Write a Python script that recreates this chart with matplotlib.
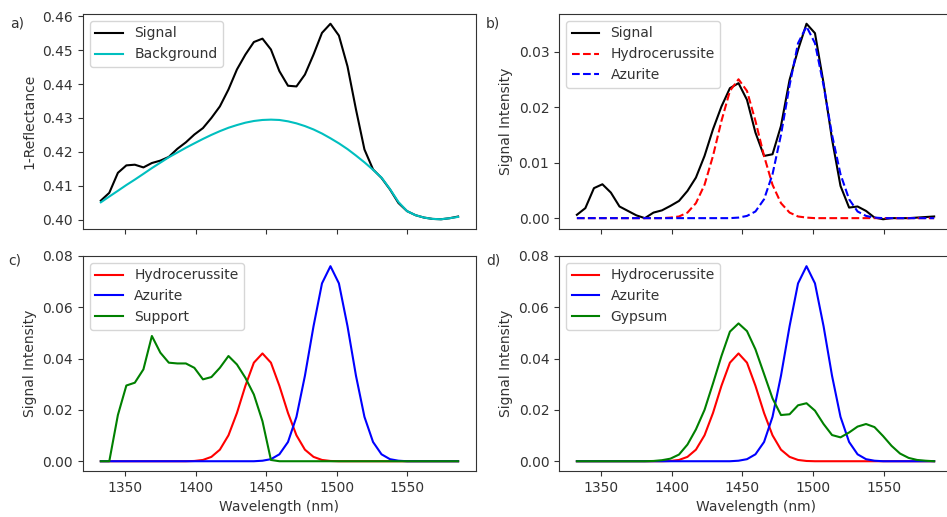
import matplotlib
matplotlib.use('Agg')
import matplotlib.pyplot as plt

# --- Spectral data (wavelength grid in nm) ---
wavelength = [1332.6, 1338.6, 1344.7, 1350.7, 1356.7, 1362.8, 1368.8, 1374.8, 1380.8,
              1386.9, 1392.9, 1398.9, 1405.0, 1411.0, 1417.0, 1423.1, 1429.1, 1435.1,
              1441.1, 1447.2, 1453.2, 1459.2, 1465.3, 1471.3, 1477.3, 1483.4, 1489.4,
              1495.4, 1501.4, 1507.5, 1513.5, 1519.5, 1525.6, 1531.6, 1537.6, 1543.6,
              1549.7, 1555.7, 1561.7, 1567.8, 1573.8, 1579.8, 1585.9]

# a) raw 1-reflectance and fitted background
raw_signal = [0.4056, 0.4079, 0.4138, 0.4160, 0.4162, 0.4154, 0.4167, 0.4174, 0.4185,
              0.4209, 0.4228, 0.4251, 0.4270, 0.4300, 0.4334, 0.4384, 0.4443, 0.4487,
              0.4524, 0.4534, 0.4502, 0.4438, 0.4395, 0.4393, 0.4428, 0.4487, 0.4551,
              0.4578, 0.4543, 0.4452, 0.4325, 0.4207, 0.4148, 0.4123, 0.4089, 0.4049,
              0.4025, 0.4013, 0.4006, 0.4002, 0.4001, 0.4004, 0.4009]
background = [0.4051, 0.4068, 0.4085, 0.4102, 0.4118, 0.4135, 0.4152, 0.4168, 0.4184,
              0.4198, 0.4212, 0.4225, 0.4238, 0.4250, 0.4261, 0.4271, 0.4279, 0.4286,
              0.4291, 0.4294, 0.4295, 0.4294, 0.4290, 0.4284, 0.4276, 0.4266, 0.4254,
              0.4240, 0.4225, 0.4208, 0.4189, 0.4169, 0.4147, 0.4124, 0.4090, 0.4052,
              0.4025, 0.4013, 0.4006, 0.4002, 0.4001, 0.4004, 0.4008]

# b) background-removed signal and fitted components
signal = [0.0006, 0.0018, 0.0054, 0.0061, 0.0046, 0.0021, 0.0013, 0.0005, 0.0000,
          0.0010, 0.0014, 0.0022, 0.0031, 0.0049, 0.0073, 0.0112, 0.0160, 0.0201,
          0.0234, 0.0243, 0.0213, 0.0154, 0.0112, 0.0115, 0.0166, 0.0249, 0.0303,
          0.0350, 0.0333, 0.0243, 0.0142, 0.0058, 0.0019, 0.0021, 0.0013, 0.0001,
          -0.0002, 0.0000, 0.0000, 0.0000, 0.0001, 0.0002, 0.0003]
hydro_fit = [0.0, 0.0, 0.0, 0.0, 0.0, 0.0, 0.0, 0.0, 0.0,
             0.0, 0.0, 0.0001, 0.0003, 0.0010, 0.0027, 0.0060, 0.0112, 0.0175,
             0.0229, 0.0250, 0.0229, 0.0175, 0.0112, 0.0060, 0.0027, 0.0010, 0.0003,
             0.0001, 0.0, 0.0, 0.0, 0.0, 0.0, 0.0, 0.0, 0.0,
             0.0, 0.0, 0.0, 0.0, 0.0, 0.0, 0.0]
azur_fit = [0.0, 0.0, 0.0, 0.0, 0.0, 0.0, 0.0, 0.0, 0.0,
            0.0, 0.0, 0.0, 0.0, 0.0, 0.0, 0.0, 0.0, 0.0,
            0.0, 0.0001, 0.0004, 0.0012, 0.0034, 0.0079, 0.0150, 0.0239, 0.0315,
            0.0345, 0.0315, 0.0239, 0.0150, 0.0079, 0.0034, 0.0012, 0.0004, 0.0001,
            0.0, 0.0, 0.0, 0.0, 0.0, 0.0, 0.0]

# c) / d) reference spectra
hydrocerussite = [0.0, 0.0, 0.0, 0.0, 0.0, 0.0, 0.0, 0.0, 0.0,
                  0.0, 0.0, 0.0001, 0.0005, 0.0017, 0.0045, 0.0101, 0.0188, 0.0294,
                  0.0384, 0.0420, 0.0384, 0.0294, 0.0188, 0.0101, 0.0045, 0.0017, 0.0005,
                  0.0001, 0.0, 0.0, 0.0, 0.0, 0.0, 0.0, 0.0, 0.0,
                  0.0, 0.0, 0.0, 0.0, 0.0, 0.0, 0.0]
azurite = [0.0, 0.0, 0.0, 0.0, 0.0, 0.0, 0.0, 0.0, 0.0,
           0.0, 0.0, 0.0, 0.0, 0.0, 0.0, 0.0, 0.0, 0.0,
           0.0, 0.0002, 0.0008, 0.0027, 0.0075, 0.0173, 0.0333, 0.0526, 0.0693,
           0.0760, 0.0693, 0.0526, 0.0333, 0.0173, 0.0075, 0.0027, 0.0008, 0.0002,
           0.0, 0.0, 0.0, 0.0, 0.0, 0.0, 0.0]
support = [0.0, 0.0, 0.0180, 0.0295, 0.0306, 0.0358, 0.0488, 0.0423, 0.0384,
           0.0381, 0.0381, 0.0364, 0.0319, 0.0328, 0.0364, 0.0410, 0.0377, 0.0325,
           0.0260, 0.0156, 0.0005, 0.0, 0.0, 0.0, 0.0, 0.0, 0.0,
           0.0, 0.0, 0.0, 0.0, 0.0, 0.0, 0.0, 0.0, 0.0,
           0.0, 0.0, 0.0, 0.0, 0.0, 0.0, 0.0]
gypsum = [0.0, 0.0, 0.0, 0.0, 0.0, 0.0, 0.0, 0.0, 0.0,
          0.0001, 0.0004, 0.0010, 0.0026, 0.0065, 0.0124, 0.0200, 0.0303, 0.0410,
          0.0505, 0.0537, 0.0507, 0.0436, 0.0340, 0.0245, 0.0180, 0.0183, 0.0218,
          0.0226, 0.0197, 0.0145, 0.0102, 0.0093, 0.0112, 0.0135, 0.0145, 0.0133,
          0.0098, 0.0060, 0.0030, 0.0013, 0.0005, 0.0002, 0.0000]

plt.rcParams['font.family'] = 'DejaVu Sans'
plt.rcParams['font.size'] = 10
plt.rcParams['text.color'] = '0.2'
plt.rcParams['axes.labelcolor'] = '0.2'
plt.rcParams['axes.edgecolor'] = '0.2'
plt.rcParams['xtick.color'] = '0.2'
plt.rcParams['ytick.color'] = '0.2'

fig = plt.figure(figsize=(9.47, 5.17), dpi=100)

w, h = 0.415, 0.416
ax_a = fig.add_axes([0.0876, 0.557, w, h])
ax_b = fig.add_axes([0.5903, 0.557, w, h], sharex=ax_a)
ax_c = fig.add_axes([0.0876, 0.089, w, h], sharex=ax_a)
ax_d = fig.add_axes([0.5903, 0.089, w, h], sharex=ax_a)

# a) raw spectrum with background
ax_a.plot(wavelength, raw_signal, 'k', label='Signal')
ax_a.plot(wavelength, background, 'c', label='Background')
ax_a.set_ylabel('1-Reflectance')
ax_a.set_yticks([0.40, 0.41, 0.42, 0.43, 0.44, 0.45, 0.46])
ax_a.legend(loc='upper left')

# b) corrected signal with component fits
ax_b.plot(wavelength, signal, 'k', label='Signal')
ax_b.plot(wavelength, hydro_fit, 'r--', label='Hydrocerussite')
ax_b.plot(wavelength, azur_fit, 'b--', label='Azurite')
ax_b.set_ylabel('Signal Intensity')
ax_b.set_yticks([0.0, 0.01, 0.02, 0.03])
ax_b.legend(loc='upper left')

# c) references with support
ax_c.plot(wavelength, hydrocerussite, 'r', label='Hydrocerussite')
ax_c.plot(wavelength, azurite, 'b', label='Azurite')
ax_c.plot(wavelength, support, 'g', label='Support')
ax_c.set_ylabel('Signal Intensity')
ax_c.set_xlabel('Wavelength (nm)')
ax_c.legend(loc='upper left')

# d) references with gypsum
ax_d.plot(wavelength, hydrocerussite, 'r', label='Hydrocerussite')
ax_d.plot(wavelength, azurite, 'b', label='Azurite')
ax_d.plot(wavelength, gypsum, 'g', label='Gypsum')
ax_d.set_ylabel('Signal Intensity')
ax_d.set_xlabel('Wavelength (nm)')
ax_d.legend(loc='upper left')

for ax in (ax_c, ax_d):
    ax.set_ylim(-0.0038, 0.08)
    ax.set_yticks([0.0, 0.02, 0.04, 0.06, 0.08])
    ax.yaxis.set_major_formatter(matplotlib.ticker.FormatStrFormatter('%.2f'))

ax_a.set_xticks([1350, 1400, 1450, 1500, 1550])
for ax in (ax_a, ax_b):
    ax.tick_params(labelbottom=False)

for label, x, y in [('a)', 0.0106, 0.969), ('b)', 0.513, 0.969),
                    ('c)', 0.0085, 0.509), ('d)', 0.513, 0.509)]:
    fig.text(x, y, label, va='top', ha='left')

fig.savefig('out.png', dpi=100)
